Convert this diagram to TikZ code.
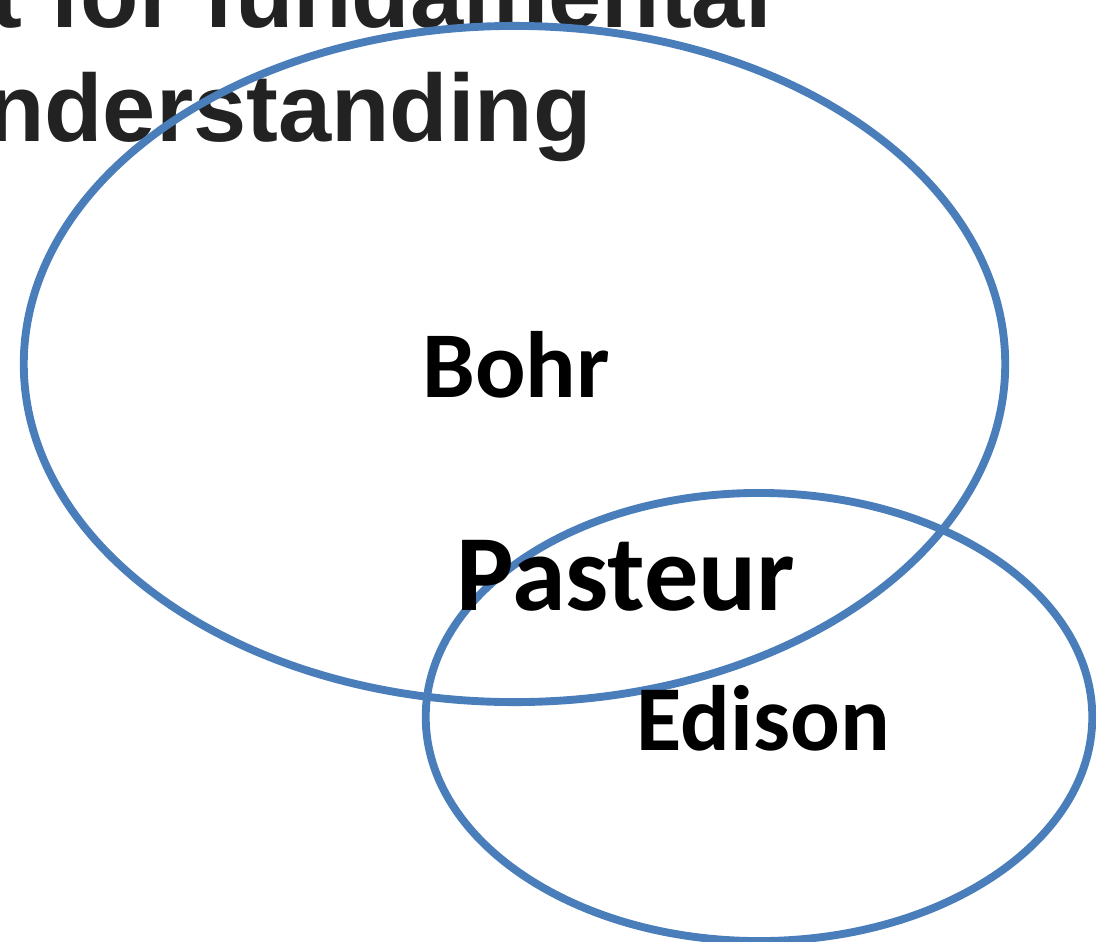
\documentclass[tikz,border=0pt]{standalone}
\usepackage{fontspec}
\setmainfont{Carlito}
\newfontfamily\titlefont{Liberation Sans}
\usetikzlibrary{shapes.geometric}
\definecolor{ringblue}{HTML}{4A7EBB}
\definecolor{titlegray}{HTML}{222222}

\begin{document}
\begin{tikzpicture}[x=0.025cm, y=-0.025cm,
  ring/.style={ellipse, draw=ringblue, line width=5.6pt, inner sep=0pt},
  setname/.style={anchor=base, inner sep=0pt},
  titleline/.style={anchor=base east, inner sep=0pt, text=titlegray,
    font=\titlefont\bfseries\fontsize{68}{82}\selectfont}]
  \clip (0,0) rectangle (1096,941);

  % title, cut off by the frame
  \node[titleline] (title1) at (772,27) {t for fundamental};
  \node[titleline] (title2) at (592,141) {nderstanding};

  % the two sets
  \node[ring, minimum width=24.53cm, minimum height=16.9cm] (bohrset) at (514.5,364) {};
  \node[ring, minimum width=16.66cm, minimum height=11.2cm] (edisonset) at (759,717) {};

  \node[setname, font=\bfseries\fontsize{67}{67}\selectfont] (bohr) at (516,397) {Bohr};
  \node[setname, font=\bfseries\fontsize{77}{77}\selectfont] (pasteur) at (626,610) {Pasteur};
  \node[setname, font=\bfseries\fontsize{66}{66}\selectfont] (edison) at (763,750) {Edison};
\end{tikzpicture}
\end{document}
